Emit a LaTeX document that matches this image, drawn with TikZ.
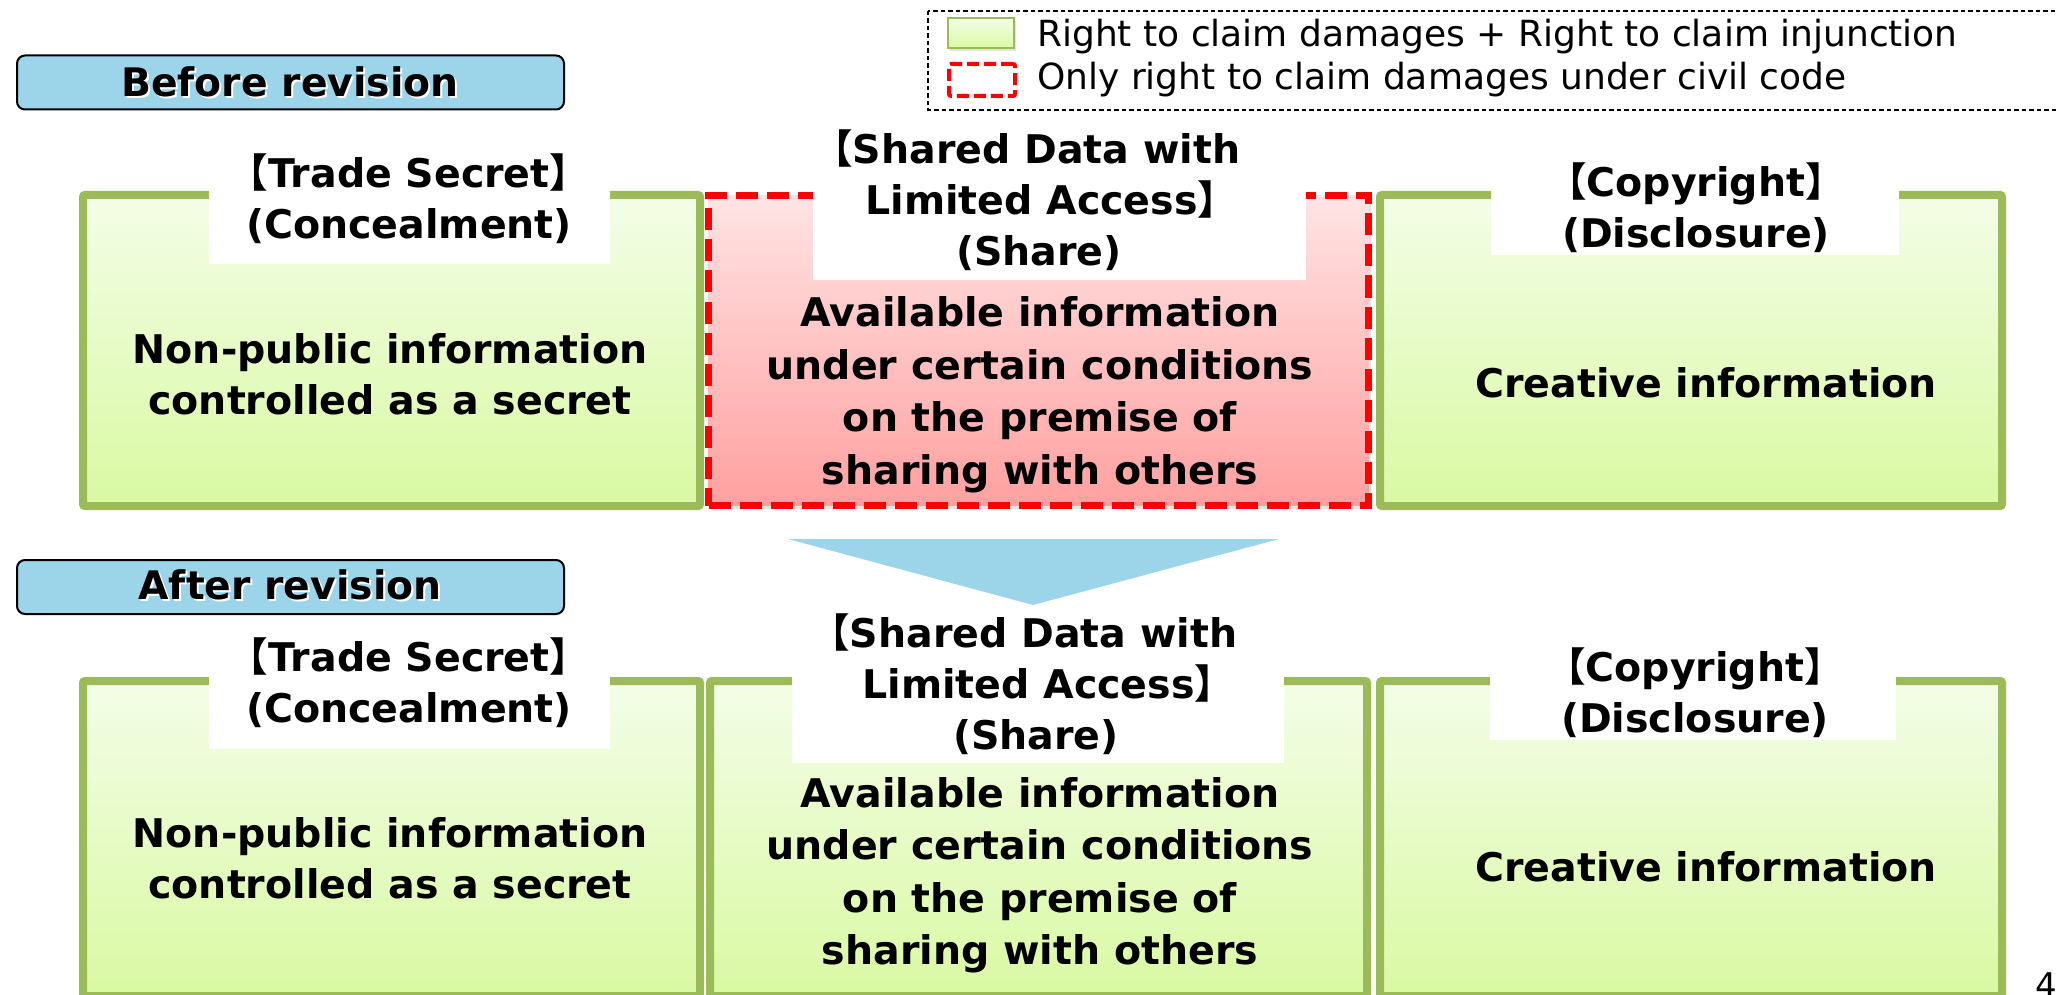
\documentclass[tikz,border=0pt]{standalone}
\usepackage{fontspec}
\setmainfont{DejaVu Sans}
\newfontfamily\cjk{Noto Sans CJK JP}
\usetikzlibrary{shadows}
\definecolor{gborder}{RGB}{155,187,89}
\definecolor{gtop}{RGB}{244,253,232}
\definecolor{gbot}{RGB}{217,249,163}
\definecolor{rtop}{RGB}{255,228,228}
\definecolor{rbot}{RGB}{255,160,160}
\definecolor{lblue}{RGB}{156,213,234}
\newcommand\lbk{\kern-.62em{\cjk 【}}
\newcommand\rbk{{\cjk 】}\kern-.62em}
\begin{document}
\begin{tikzpicture}[x=1pt,y=-1pt,
  shad/.style={drop shadow={opacity=0.22, shadow xshift=2pt, shadow yshift=-3pt}},
  gbox/.style={draw=gborder, line width=8pt, top color=gtop, bottom color=gbot,
    rounded corners=2pt, anchor=north west, inner sep=0pt, outer sep=0pt, shad},
  rbox/.style={draw=red, line width=7pt, dash pattern=on 22pt off 9pt, top color=rtop,
    bottom color=rbot, anchor=north west, inner sep=0pt, outer sep=0pt, shad},
  notch/.style={fill=white, anchor=north west, inner sep=0pt, outer sep=0pt},
  hdr/.style={font=\fontsize{39.5pt}{51pt}\selectfont\bfseries, align=center, inner sep=0pt},
  body/.style={font=\fontsize{39.5pt}{51pt}\selectfont\bfseries, align=center, inner sep=0pt},
  body4/.style={font=\fontsize{39.5pt}{52.5pt}\selectfont\bfseries, align=center, inner sep=0pt},
  lbl/.style={draw=black, line width=2pt, fill=lblue, rounded corners=8pt, inner sep=0pt},
  lbltext/.style={font=\fontsize{39.3pt}{44pt}\selectfont\bfseries, inner sep=0pt},
  legtext/.style={font=\fontsize{36pt}{42pt}\selectfont, anchor=base west, inner sep=0pt}]
\useasboundingbox (0,0) rectangle (2057,995);

% legend
\draw[line width=1.8pt, dash pattern=on 4.5pt off 3pt] (928,11) rectangle (2075,110);
\node[draw=gborder, line width=2pt, top color=gtop, bottom color=gbot, anchor=north west,
  minimum width=66pt, minimum height=30pt, inner sep=0pt, outer sep=0pt, shad] (swg) at (948,18) {};
\node[draw=red, line width=4pt, dash pattern=on 12pt off 5pt, rounded corners=2pt, anchor=north west,
  minimum width=66pt, minimum height=32pt, inner sep=0pt, outer sep=0pt] (swr) at (949,64) {};
\node[legtext] (leg1) at (1037,46.5) {Right to claim damages + Right to claim injunction};
\node[legtext] (leg2) at (1037,90) {Only right to claim damages under civil code};

% labels
\node[lbl, minimum width=547pt, minimum height=54pt] (before) at (290.5,82.5) {};
\node[lbltext, text=white] (beforeS) at (292,84) {Before revision};
\node[lbltext] (beforeT) at (290,82) {Before revision};
\node[lbl, minimum width=547pt, minimum height=54pt] (after) at (290.5,587) {};
\node[lbltext, text=white] (afterS) at (292,587) {After revision};
\node[lbltext] (afterT) at (290,585) {After revision};

% top row boxes
\node[gbox, minimum width=617pt, minimum height=311pt] (A) at (83,195) {};
\node[rbox, minimum width=660pt, minimum height=310pt] (B) at (708.5,195.5) {};
\node[gbox, minimum width=622pt, minimum height=311pt] (C) at (1380,195) {};
\node[notch, minimum width=401pt, minimum height=84pt] (nA) at (209,180) {};
\node[notch, minimum width=493pt, minimum height=100pt] (nB) at (813,180) {};
\node[notch, minimum width=408pt, minimum height=75pt] (nC) at (1491,180) {};

\node[hdr] (hA) at (409,199) {\lbk Trade Secret\rbk\\(Concealment)};
\node[hdr] (hB) at (1039,200) {\lbk Shared Data with\\Limited Access\rbk\\(Share)};
\node[hdr] (hC) at (1696,207.5) {\lbk Copyright\rbk\\(Disclosure)};
\node[body] (tA) at (390,374) {Non-public information\\controlled as a secret};
\node[body4] (tB) at (1040,395) {Available information\\under certain conditions\\on the premise of\\sharing with others};
\node[body] (tC) at (1706,383) {Creative information};

% arrow
\fill[lblue] (788,539) -- (1279,539) -- (1033,605) -- cycle;

% bottom row boxes
\node[gbox, minimum width=617pt, minimum height=315pt] (D) at (83,681) {};
\node[gbox, minimum width=657pt, minimum height=315pt] (E) at (710,681) {};
\node[gbox, minimum width=622pt, minimum height=315pt] (F) at (1380,681) {};
\node[notch, minimum width=401pt, minimum height=84pt] (nD) at (209,665) {};
\node[notch, minimum width=492pt, minimum height=98pt] (nE) at (792,665) {};
\node[notch, minimum width=406pt, minimum height=75pt] (nF) at (1490,665) {};

\node[hdr] (hD) at (409,683) {\lbk Trade Secret\rbk\\(Concealment)};
\node[hdr] (hE) at (1036,684.5) {\lbk Shared Data with\\Limited Access\rbk\\(Share)};
\node[hdr] (hF) at (1695,693) {\lbk Copyright\rbk\\(Disclosure)};
\node[body] (tD) at (390,858) {Non-public information\\controlled as a secret};
\node[body4] (tE) at (1040,875) {Available information\\under certain conditions\\on the premise of\\sharing with others};
\node[body] (tF) at (1706,867) {Creative information};

% page number
\node[font=\fontsize{34pt}{40pt}\selectfont, anchor=base west, inner sep=0pt] (pg) at (2035,997) {4};
\end{tikzpicture}
\end{document}
